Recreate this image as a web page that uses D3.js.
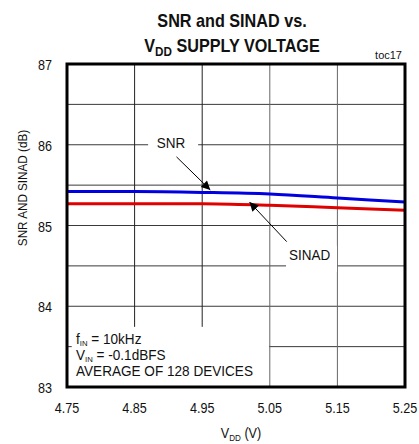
<!DOCTYPE html>
<html><head><meta charset="utf-8">
<script src="https://cdn.jsdelivr.net/npm/d3@7"></script>
<style>body{margin:0;background:#fff}text{font-family:Arial,"Liberation Sans",sans-serif;fill:#111}</style>
</head><body><svg id="c" width="419" height="444"></svg>
<script>
const vdd = [4.75, 4.85, 4.95, 5.05, 5.15, 5.25];
const snr = [85.42, 85.42, 85.41, 85.39, 85.34, 85.29];
const sinad = [85.27, 85.27, 85.27, 85.25, 85.22, 85.19];
const xTicks = [4.75, 4.85, 4.95, 5.05, 5.15, 5.25];
const yTicks = [83, 84, 85, 86, 87];
const yGrid = [83.5, 84, 84.5, 85, 85.5, 86, 86.5];
const xGrid = [4.85, 4.95, 5.05, 5.15];

const svg = d3.select("#c");
const x = d3.scaleLinear().domain([4.75, 5.25]).range([67, 405]);
const y = d3.scaleLinear().domain([83, 87]).range([387, 64]);
const SX = 0.9;

function txt(g, tx, ty, s, size, anchor, weight, sx) {
  const t = g.append("text").attr("transform", `translate(${tx},${ty}) scale(${sx || SX},1)`)
    .attr("font-size", size).attr("text-anchor", anchor || "start");
  if (weight) t.attr("font-weight", weight);
  t.text(s);
  return t;
}

// gridlines
svg.append("g").selectAll("line").data(yGrid).join("line")
  .attr("x1", x.range()[0]).attr("x2", x.range()[1])
  .attr("y1", d => y(d)).attr("y2", d => y(d))
  .attr("stroke", "#3a3a3a").attr("stroke-width", 1);
svg.append("g").selectAll("line").data(xGrid).join("line")
  .attr("x1", d => x(d)).attr("x2", d => x(d))
  .attr("y1", y.range()[0]).attr("y2", y.range()[1])
  .attr("stroke", (d, i) => i < 2 ? "#222" : "#666").attr("stroke-width", 1);

// white knockouts behind labels
svg.append("rect").attr("x", x(4.757)).attr("y", y(83.745)).attr("width", x(5.0) - x(4.757) + 33).attr("height", y(83.01) - y(83.745)).attr("fill", "#fff");
svg.append("rect").attr("x", x(4.87)).attr("y", y(86.12)).attr("width", 50).attr("height", 20).attr("fill", "#fff");
svg.append("rect").attr("x", x(5.074)).attr("y", y(84.75)).attr("width", 51).attr("height", 26).attr("fill", "#fff");

// data lines
const line = d3.line().x((d, i) => x(vdd[i])).y(d => y(d)).curve(d3.curveMonotoneX);
svg.append("path").datum(snr).attr("d", line).attr("fill", "none").attr("stroke", "#0000e0").attr("stroke-width", 3);
svg.append("path").datum(sinad).attr("d", line).attr("fill", "none").attr("stroke", "#e00000").attr("stroke-width", 3);

// border
svg.append("rect").attr("x", x(4.75)).attr("y", y(87)).attr("width", x(5.25) - x(4.75)).attr("height", y(83) - y(87))
  .attr("fill", "none").attr("stroke", "#000").attr("stroke-width", 3);

// arrows
svg.append("defs").append("marker").attr("id", "ah").attr("viewBox", "0 0 10 10").attr("refX", 10).attr("refY", 5)
  .attr("markerWidth", 12).attr("markerHeight", 9).attr("markerUnits", "userSpaceOnUse").attr("orient", "auto")
  .append("path").attr("d", "M0,0 L10,5 L0,10 Z").attr("fill", "#000");
function arrow(x0, y0, x1, y1) {
  svg.append("line").attr("x1", x(x0)).attr("y1", y(y0)).attr("x2", x(x1)).attr("y2", y(y1))
    .attr("stroke", "#000").attr("stroke-width", 1).attr("marker-end", "url(#ah)");
}
arrow(4.912, 85.85, 4.962, 85.44);
arrow(5.075, 84.80, 5.020, 85.29);

// labels
txt(svg, x(4.904), y(86.02) + 5, "SNR", 15, "middle");
txt(svg, x(5.109), y(84.64) + 5, "SINAD", 15, "middle");

// annotation
const a = svg.append("g");
const AX = 0.97;
function sub(ty, main, subs, rest) {
  const t = a.append("text").attr("transform", `translate(${x(4.7633)},${ty}) scale(${AX},1)`).attr("font-size", 14);
  t.append("tspan").text(main);
  t.append("tspan").attr("font-size", 8).attr("dy", 1.5).text(subs);
  t.append("tspan").attr("dy", -1.5).text(rest);
}
sub(344, "f", "IN", " = 10kHz");
sub(360, "V", "IN", " = -0.1dBFS");
txt(a, x(4.7633), 376, "AVERAGE OF 128 DEVICES", 14, "start", null, AX);

// axes tick labels
svg.append("g").selectAll("text").data(xTicks).join("text")
  .attr("transform", d => `translate(${x(d)},413) scale(${SX},1)`).attr("text-anchor", "middle").attr("font-size", 14)
  .text(d => d.toFixed(2));
svg.append("g").selectAll("text").data(yTicks).join("text")
  .attr("transform", d => `translate(52,${y(d) + 6}) scale(${SX},1)`).attr("text-anchor", "end").attr("font-size", 14)
  .text(d => d);

// axis titles
const xt = svg.append("text").attr("transform", `translate(241,438) scale(${SX},1)`).attr("text-anchor", "middle").attr("font-size", 14);
xt.append("tspan").text("V");
xt.append("tspan").attr("font-size", 9).attr("dy", 3).text("DD");
xt.append("tspan").attr("dy", -3).text(" (V)");
svg.append("text").attr("transform", `translate(27,188) rotate(-90) scale(${SX},1)`).attr("text-anchor", "middle").attr("font-size", 13)
  .text("SNR AND SINAD (dB)");

// title
txt(svg, 232, 27, "SNR and SINAD vs.", 18, "middle", "bold");
const t2 = svg.append("text").attr("transform", `translate(232,52) scale(${SX},1)`).attr("text-anchor", "middle").attr("font-size", 18).attr("font-weight", "bold");
t2.append("tspan").text("V");
t2.append("tspan").attr("font-size", 13).attr("dy", 4).text("DD");
t2.append("tspan").attr("dy", -4).text(" SUPPLY VOLTAGE");
txt(svg, 402, 59, "toc17", 11, "end", null, 1);
</script></body></html>
